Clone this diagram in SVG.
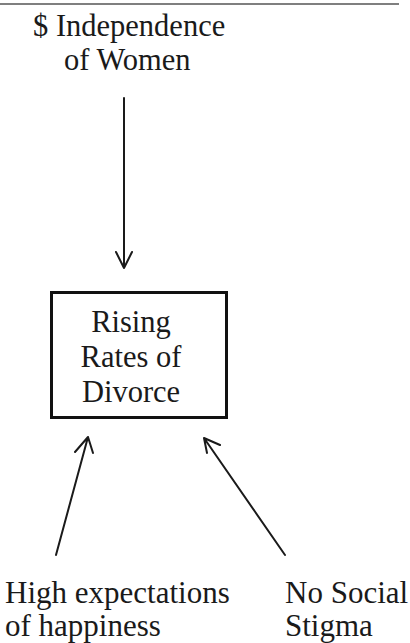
<svg xmlns="http://www.w3.org/2000/svg" width="410" height="643" viewBox="0 0 410 643">
<style>
text{font-family:"Liberation Serif","Times New Roman",serif;font-size:30.5px;fill:#1a1a1a}
.b{font-size:31px}
.c{stroke:#1a1a1a;stroke-width:2;fill:none;stroke-linecap:round;stroke-linejoin:round}
</style>
<rect width="410" height="643" fill="#ffffff"/>
<line x1="0" y1="4" x2="399" y2="4" stroke="#555" stroke-width="1.5"/>
<g id="independence">
<text x="33" y="36">$ Independence</text>
<text x="64" y="70">of Women</text>
</g>
<g id="divorce">
<rect x="51.5" y="292.5" width="175" height="125" fill="none" stroke="#111" stroke-width="3"/>
<text x="131" y="332" text-anchor="middle">Rising</text>
<text x="131" y="367" text-anchor="middle">Rates of</text>
<text x="131" y="402" text-anchor="middle">Divorce</text>
</g>
<g id="expectations">
<text class="b" x="5" y="603">High expectations</text>
<text class="b" x="5" y="636">of happiness</text>
</g>
<g id="stigma">
<text class="b" x="285" y="603">No Social</text>
<text class="b" x="285" y="636">Stigma</text>
</g>
<g id="connectors">
<path class="c" d="M124 98 L124 268 M116 252 L124 268 L132 252"/>
<path class="c" d="M56 555 L88 437 M75 452 L88 437 L93 453"/>
<path class="c" d="M285 555 L204 438 M220 445 L204 438 L207 453"/>
</g>
</svg>
